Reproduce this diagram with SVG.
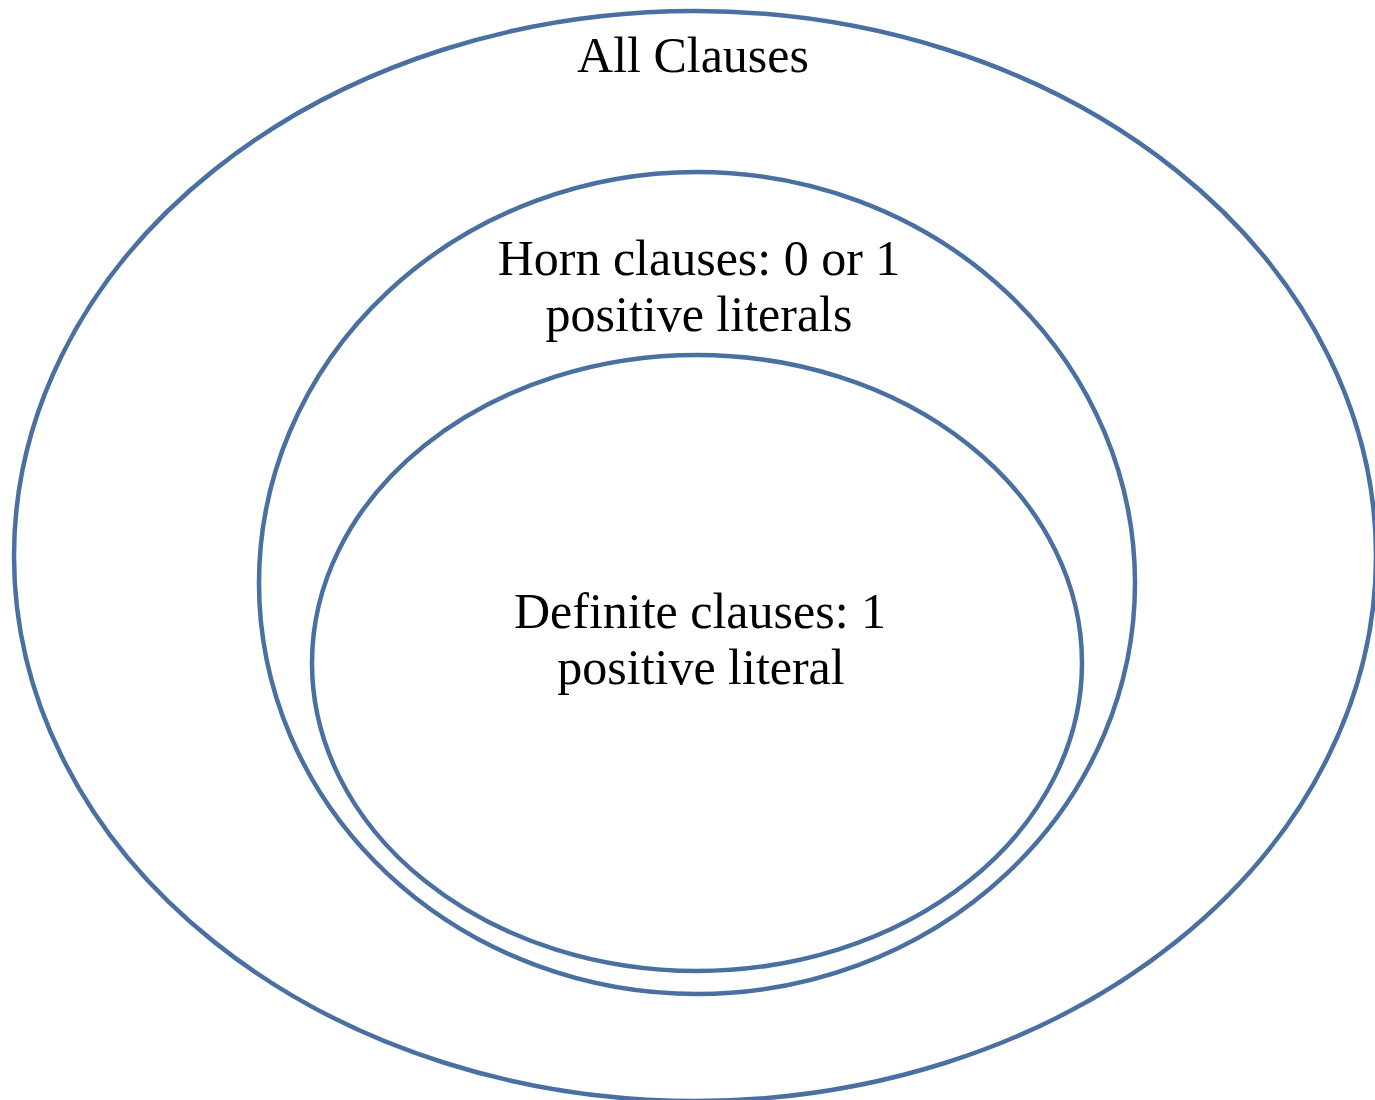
<svg xmlns="http://www.w3.org/2000/svg" width="1375" height="1100" viewBox="0 0 1375 1100">
<style>
.set{fill:none;stroke:#4a70a2;stroke-width:4.5}
.lbl{font-family:"Liberation Serif","DejaVu Serif",serif;font-size:50px;fill:#000;text-anchor:middle}
</style>
<rect width="1375" height="1100" fill="#fff"/>
<g id="all">
<ellipse class="set" cx="695" cy="556" rx="681" ry="545"/>
<text class="lbl" x="693" y="72">All Clauses</text>
</g>
<g id="horn">
<ellipse class="set" cx="697" cy="583" rx="438" ry="411"/>
<text class="lbl" x="699" y="275">Horn clauses: 0 or 1</text>
<text class="lbl" x="699" y="331">positive literals</text>
</g>
<g id="definite">
<ellipse class="set" cx="697" cy="663" rx="385" ry="308"/>
<text class="lbl" x="700" y="628">Definite clauses: 1</text>
<text class="lbl" x="701" y="684">positive literal</text>
</g>
<g id="connectors"/>
</svg>
